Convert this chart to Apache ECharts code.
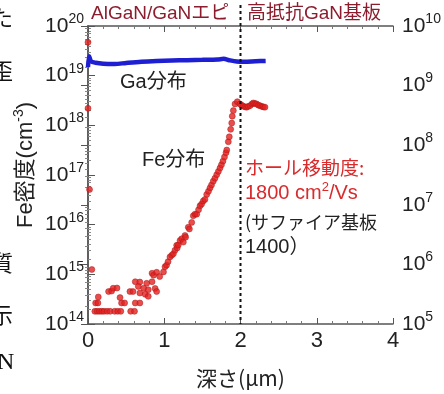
<!DOCTYPE html>
<html>
<head>
<meta charset="utf-8">
<script src="https://cdn.jsdelivr.net/npm/echarts@6/dist/echarts.min.js"></script>
<style>
  html, body { margin: 0; padding: 0; background: #fff; }
  #main { width: 444px; height: 394px; }
</style>
</head>
<body>
<div id="main"></div>
<script>
// 軸の範囲・目盛
var xTicks = [0, 1, 2, 3, 4];
var leftRange = [1e14, 1e20];
var rightRange = [1e5, 1e10];
var boundaryX = 2; // AlGaN/GaN と基板の境界

// Ga分布 (深さ µm, 濃度 cm^-3)
var gaDepth = [0, 0.015, 0.04, 0.1, 0.2, 0.35, 0.5, 0.7, 0.9, 1.1, 1.3, 1.5, 1.7, 1.78, 1.85, 1.95, 2.05, 2.2, 2.33];
var gaValue = [1.48e19, 2.45e19, 1.95e19, 1.82e19, 1.74e19, 1.72e19, 1.8e19, 1.9e19, 1.97e19, 2.02e19, 2.05e19, 2.08e19, 2.12e19, 2.18e19, 2.05e19, 1.92e19, 1.9e19, 1.95e19, 1.98e19];

// Fe分布 (SIMS 点)
var feDepth = [
  0.0, 0.0, 0.02, 0.05,
  0.09, 0.12, 0.15, 0.18, 0.21, 0.25, 0.29, 0.35, 0.39, 0.43, 0.56, 0.61,
  0.10, 0.13, 0.44, 0.48, 0.62, 0.68,
  0.135, 0.42,
  0.27, 0.31, 0.55, 0.59,
  0.33, 0.38,
  0.62, 0.68, 0.77, 0.84,
  0.66, 0.73, 0.79, 0.88, 0.90,
  0.68, 0.75, 0.79,
  0.84, 0.86, 0.90, 0.94, 0.99,
  1.01, 1.03, 1.05, 1.075, 1.098, 1.12, 1.141, 1.163, 1.17, 1.184, 1.207, 1.229, 1.25, 1.272, 1.28,
  1.315, 1.33, 1.36, 1.381, 1.403, 1.426, 1.45, 1.469, 1.49, 1.512, 1.534, 1.557, 1.58, 1.60, 1.62,
  1.643, 1.665, 1.688, 1.71, 1.731, 1.75, 1.77, 1.79, 1.81, 1.82,
  1.84, 1.853, 1.871, 1.885, 1.892, 1.906, 1.928, 1.958, 1.993, 2.015, 2.037, 2.06, 2.081, 2.10,
  2.125, 2.15, 2.168, 2.19, 2.212, 2.235, 2.256, 2.28, 2.30, 2.321
];
var feValue = [
  4.7e19, 2.2e18, 5.1e16, 1.25e15,
  1.8e14, 1.8e14, 1.8e14, 1.8e14, 1.8e14, 1.8e14, 1.8e14, 1.8e14, 1.8e14, 1.8e14, 1.8e14, 1.8e14,
  2.65e14, 2.65e14, 2.65e14, 2.65e14, 2.65e14, 2.65e14,
  3.5e14, 3.4e14,
  4.5e14, 4.6e14, 4.5e14, 4.5e14,
  5.25e14, 5.3e14,
  7.1e14, 7.0e14, 6.6e14, 7.1e14,
  5.7e14, 5.25e14, 4.9e14, 5.2e14, 4.5e14,
  4.2e14, 3.95e14, 3.6e14,
  1.05e15, 9.6e14, 1.1e15, 9e14, 1.12e15,
  1.42e15, 1.53e15, 1.8e15, 2.24e15, 2.42e15, 2.6e15, 3.05e15, 3.83e15, 3.4e15, 3.9e15, 4.8e15, 5.2e15, 4.46e15, 6.05e15, 5.6e15,
  8.85e15, 8.2e15, 1.11e16, 1.51e16, 1.63e16, 1.63e16, 2.0e16, 2.39e16, 2.6e16, 3.0e16, 3.23e16, 4.06e16, 4.7e16, 5.5e16, 6.3e16,
  7.5e16, 8.6e16, 1.01e17, 1.18e17, 1.38e17, 1.6e17, 1.9e17, 2.3e17, 2.8e17, 3.18e17,
  4.67e17, 5.87e17, 8.3e17, 1.11e18, 1.53e18, 1.98e18, 2.69e18, 2.99e18, 2.69e18, 2.55e18, 2.43e18, 2.35e18, 2.32e18, 2.4e18,
  2.49e18, 2.7e18, 2.82e18, 2.75e18, 2.69e18, 2.55e18, 2.49e18, 2.4e18, 2.35e18, 2.32e18
];

var FONT = '"Liberation Sans", "Noto Sans CJK JP", sans-serif';
var JP = '"Noto Sans CJK JP", "Liberation Sans", sans-serif';

var chartDom = document.getElementById('main');
var myChart = echarts.init(chartDom);

function powLabel(v) {
  var e = Math.round(Math.log10(v));
  return '{b|10}{s|' + e + '}';
}
var powRich = {
  b: { fontSize: 21, fontFamily: FONT, color: '#222' },
  s: { fontSize: 14, fontFamily: FONT, color: '#222', padding: [0, 0, 14, 0] }
};

var axisLineStyle = { color: '#555', width: 1.5 };

var option = {
  animation: false,
  backgroundColor: '#fff',
  grid: { left: 88, right: 51, top: 26, bottom: 66 },
  xAxis: [
    {
      type: 'value', min: xTicks[0], max: xTicks[xTicks.length - 1], interval: 1,
      axisLine: { lineStyle: axisLineStyle },
      axisTick: { inside: true, length: 6, lineStyle: { color: '#555' } },
      minorTick: { show: true, splitNumber: 5, length: 3, lineStyle: { color: '#777' } },
      splitLine: { show: false },
      axisLabel: { fontSize: 22, fontFamily: FONT, color: '#222', margin: 6 },
      name: '深さ(μm)', nameLocation: 'middle', nameGap: 44,
      nameTextStyle: { fontSize: 21, fontFamily: JP, color: '#222' }
    },
    {
      type: 'value', position: 'top', min: xTicks[0], max: xTicks[xTicks.length - 1], interval: 1,
      axisLine: { lineStyle: axisLineStyle },
      axisTick: { inside: true, length: 6, lineStyle: { color: '#555' } },
      minorTick: { show: true, splitNumber: 5, length: 3, lineStyle: { color: '#777' } },
      splitLine: { show: false },
      axisLabel: { show: false }
    }
  ],
  yAxis: [
    {
      type: 'log', logBase: 10, min: leftRange[0], max: leftRange[1], position: 'left',
      axisLine: { lineStyle: axisLineStyle },
      axisTick: { inside: true, length: 7, lineStyle: { color: '#555' } },
      minorTick: { show: true, splitNumber: 9, length: 3, lineStyle: { color: '#888' } },
      splitLine: { show: false },
      axisLabel: { formatter: powLabel, rich: powRich, margin: 4 }
    },
    {
      type: 'log', logBase: 10, min: rightRange[0], max: rightRange[1], position: 'right',
      axisLine: { lineStyle: axisLineStyle },
      axisTick: { inside: true, length: 7, lineStyle: { color: '#555' } },
      minorTick: { show: true, splitNumber: 9, length: 3, lineStyle: { color: '#888' } },
      splitLine: { show: false },
      axisLabel: { formatter: powLabel, rich: powRich, margin: 9 }
    }
  ],
  series: [
    {
      name: 'Ga分布', type: 'line', xAxisIndex: 0, yAxisIndex: 0,
      data: gaDepth.map(function (d, i) { return [d, gaValue[i]]; }),
      showSymbol: false, smooth: 0.3,
      lineStyle: { color: '#1e1ed2', width: 4.5 },
      z: 2
    },
    {
      name: 'Fe分布', type: 'scatter', xAxisIndex: 0, yAxisIndex: 0,
      data: feDepth.map(function (d, i) { return [d, feValue[i]]; }),
      symbolSize: 6,
      itemStyle: { color: '#e3201f', borderColor: '#a81818', borderWidth: 0.6 },
      z: 3
    }
  ]
};

myChart.setOption(option);

// 境界の点線と注記
var bx = myChart.convertToPixel({ xAxisIndex: 0 }, boundaryX);
var yBottom = myChart.convertToPixel({ yAxisIndex: 0 }, leftRange[0]);

myChart.setOption({
  graphic: [
    { type: 'line', z: 10, shape: { x1: bx, y1: 5, x2: bx, y2: yBottom },
      style: { stroke: '#111', lineWidth: 2, lineDash: [3, 3] } },
    { type: 'text', x: 91, y: 14, style: { text: 'AlGaN/GaNエピ', fill: '#8c1d2e', font: '19px ' + FONT, textVerticalAlign: 'middle' } },
    { type: 'text', x: 247, y: 14, style: { text: '高抵抗GaN基板', fill: '#8c1d2e', font: '19px ' + FONT, textVerticalAlign: 'middle' } },
    { type: 'text', x: 120, y: 82, style: { text: 'Ga分布', fill: '#222', font: '20px ' + FONT, textVerticalAlign: 'middle' } },
    { type: 'text', x: 142, y: 160, style: { text: 'Fe分布', fill: '#222', font: '20px ' + FONT, textVerticalAlign: 'middle' } },
    { type: 'text', x: 245, y: 168, style: { text: 'ホール移動度:', fill: '#d92a2c', font: '19px ' + JP, textVerticalAlign: 'middle' } },
    { type: 'text', x: 245, y: 193, style: {
        text: '{a|1800 cm}{s|2}{a|/Vs}',
        rich: {
          a: { fontSize: 20, fontFamily: FONT, fill: '#d92a2c', color: '#d92a2c' },
          s: { fontSize: 13, fontFamily: FONT, fill: '#d92a2c', color: '#d92a2c', padding: [0, 0, 12, 0] }
        },
        textVerticalAlign: 'middle' } },
    { type: 'text', x: 245, y: 222, style: { text: '(サファイア基板', fill: '#222', font: '18px ' + JP, textVerticalAlign: 'middle' } },
    { type: 'text', x: 245, y: 247, style: { text: '1400）', fill: '#222', font: '20px ' + FONT, textVerticalAlign: 'middle' } },
    { type: 'text', x: 26, y: 165, rotation: Math.PI / 2, style: {
        text: '{a|Fe密度(cm}{s|-3}{a|)}',
        rich: {
          a: { fontSize: 22, fontFamily: FONT, fill: '#222', color: '#222' },
          s: { fontSize: 14, fontFamily: FONT, fill: '#222', color: '#222', padding: [0, 0, 14, 0] }
        },
        textAlign: 'center', textVerticalAlign: 'middle' } },
    // 左端に写り込んだ本文の文字
    { type: 'text', x: -9, y: 18, style: { text: 'た', fill: '#111', font: '22px "Noto Sans CJK JP"', textVerticalAlign: 'middle' } },
    { type: 'text', x: -9, y: 71, style: { text: '歪', fill: '#111', font: '22px "Noto Sans CJK JP"', textVerticalAlign: 'middle' } },
    { type: 'text', x: -9, y: 263, style: { text: '質', fill: '#111', font: '22px "Noto Sans CJK JP"', textVerticalAlign: 'middle' } },
    { type: 'text', x: -9, y: 315, style: { text: '示', fill: '#111', font: '22px "Noto Sans CJK JP"', textVerticalAlign: 'middle' } },
    { type: 'text', x: -3, y: 363, style: { text: 'N', fill: '#111', font: '24px "Liberation Serif"', textVerticalAlign: 'middle' } }
  ]
});
</script>
</body>
</html>
